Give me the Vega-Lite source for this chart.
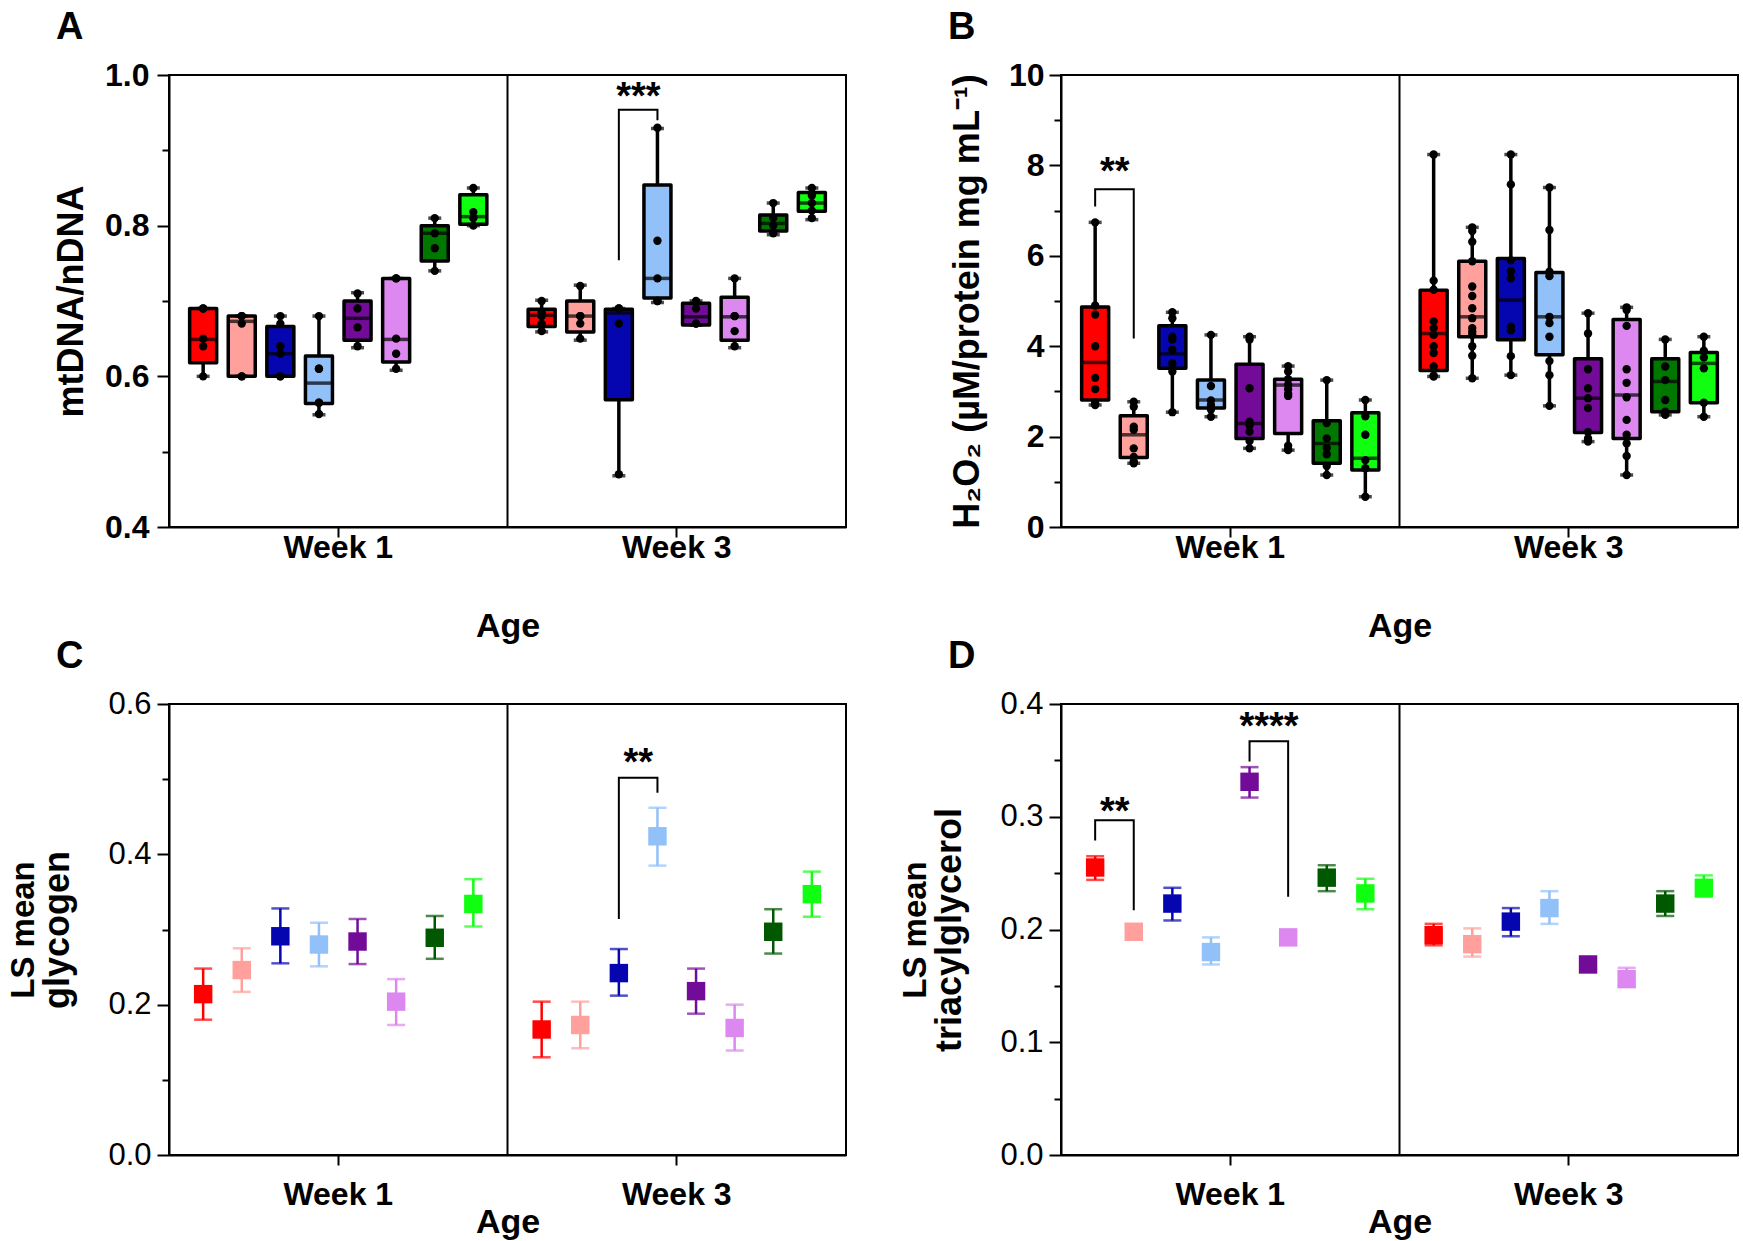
{
  "$schema": "https://vega.github.io/schema/vega-lite/v6.json",
  "autosize": {"type": "pad"},
  "padding": {"left": 6, "top": 8, "right": 4, "bottom": 0},
  "background": "white",
  "config": {
    "font": "Liberation Sans",
    "view": {"stroke": "black", "strokeWidth": 2},
    "axis": {"domainColor": "black", "domainWidth": 2, "tickColor": "black", "tickWidth": 2, "labelColor": "black", "titleColor": "black", "grid": false},
    "title": {"anchor": "start", "frame": "group", "fontSize": 38, "fontWeight": "bold", "color": "black", "dx": -113, "offset": 12}
  },
  "datasets": {
    "boxA": [
      {"week": "Week 1", "group": "G1", "lo": 0.600, "q1": 0.618, "med": 0.649, "q3": 0.690, "hi": 0.690},
      {"week": "Week 1", "group": "G2", "lo": 0.600, "q1": 0.600, "med": 0.673, "q3": 0.680, "hi": 0.680},
      {"week": "Week 1", "group": "G3", "lo": 0.600, "q1": 0.600, "med": 0.630, "q3": 0.666, "hi": 0.680},
      {"week": "Week 1", "group": "G4", "lo": 0.549, "q1": 0.564, "med": 0.591, "q3": 0.627, "hi": 0.680},
      {"week": "Week 1", "group": "G5", "lo": 0.638, "q1": 0.648, "med": 0.677, "q3": 0.700, "hi": 0.711},
      {"week": "Week 1", "group": "G6", "lo": 0.608, "q1": 0.619, "med": 0.649, "q3": 0.730, "hi": 0.730},
      {"week": "Week 1", "group": "G7", "lo": 0.740, "q1": 0.753, "med": 0.790, "q3": 0.800, "hi": 0.810},
      {"week": "Week 1", "group": "G8", "lo": 0.800, "q1": 0.802, "med": 0.812, "q3": 0.841, "hi": 0.850},
      {"week": "Week 3", "group": "G1", "lo": 0.659, "q1": 0.666, "med": 0.681, "q3": 0.689, "hi": 0.701},
      {"week": "Week 3", "group": "G2", "lo": 0.648, "q1": 0.659, "med": 0.680, "q3": 0.700, "hi": 0.721},
      {"week": "Week 3", "group": "G3", "lo": 0.468, "q1": 0.569, "med": 0.684, "q3": 0.689, "hi": 0.690},
      {"week": "Week 3", "group": "G4", "lo": 0.698, "q1": 0.704, "med": 0.730, "q3": 0.854, "hi": 0.929},
      {"week": "Week 3", "group": "G5", "lo": 0.668, "q1": 0.668, "med": 0.679, "q3": 0.697, "hi": 0.700},
      {"week": "Week 3", "group": "G6", "lo": 0.638, "q1": 0.648, "med": 0.679, "q3": 0.705, "hi": 0.730},
      {"week": "Week 3", "group": "G7", "lo": 0.788, "q1": 0.793, "med": 0.803, "q3": 0.814, "hi": 0.830},
      {"week": "Week 3", "group": "G8", "lo": 0.808, "q1": 0.819, "med": 0.830, "q3": 0.844, "hi": 0.850}
    ],
    "ptsA": [
      {"week": "Week 1", "group": "G1", "v": 0.69}, {"week": "Week 1", "group": "G1", "v": 0.69}, {"week": "Week 1", "group": "G1", "v": 0.65}, {"week": "Week 1", "group": "G1", "v": 0.64}, {"week": "Week 1", "group": "G1", "v": 0.60},
      {"week": "Week 1", "group": "G2", "v": 0.68}, {"week": "Week 1", "group": "G2", "v": 0.68}, {"week": "Week 1", "group": "G2", "v": 0.67}, {"week": "Week 1", "group": "G2", "v": 0.60}, {"week": "Week 1", "group": "G2", "v": 0.60},
      {"week": "Week 1", "group": "G3", "v": 0.68}, {"week": "Week 1", "group": "G3", "v": 0.67}, {"week": "Week 1", "group": "G3", "v": 0.64}, {"week": "Week 1", "group": "G3", "v": 0.63}, {"week": "Week 1", "group": "G3", "v": 0.60}, {"week": "Week 1", "group": "G3", "v": 0.60},
      {"week": "Week 1", "group": "G4", "v": 0.68}, {"week": "Week 1", "group": "G4", "v": 0.61}, {"week": "Week 1", "group": "G4", "v": 0.61}, {"week": "Week 1", "group": "G4", "v": 0.565}, {"week": "Week 1", "group": "G4", "v": 0.565}, {"week": "Week 1", "group": "G4", "v": 0.55},
      {"week": "Week 1", "group": "G5", "v": 0.71}, {"week": "Week 1", "group": "G5", "v": 0.69}, {"week": "Week 1", "group": "G5", "v": 0.665}, {"week": "Week 1", "group": "G5", "v": 0.64},
      {"week": "Week 1", "group": "G6", "v": 0.73}, {"week": "Week 1", "group": "G6", "v": 0.73}, {"week": "Week 1", "group": "G6", "v": 0.65}, {"week": "Week 1", "group": "G6", "v": 0.63}, {"week": "Week 1", "group": "G6", "v": 0.61},
      {"week": "Week 1", "group": "G7", "v": 0.81}, {"week": "Week 1", "group": "G7", "v": 0.79}, {"week": "Week 1", "group": "G7", "v": 0.77}, {"week": "Week 1", "group": "G7", "v": 0.74},
      {"week": "Week 1", "group": "G8", "v": 0.85}, {"week": "Week 1", "group": "G8", "v": 0.818}, {"week": "Week 1", "group": "G8", "v": 0.81}, {"week": "Week 1", "group": "G8", "v": 0.80},
      {"week": "Week 3", "group": "G1", "v": 0.70}, {"week": "Week 3", "group": "G1", "v": 0.685}, {"week": "Week 3", "group": "G1", "v": 0.68}, {"week": "Week 3", "group": "G1", "v": 0.67}, {"week": "Week 3", "group": "G1", "v": 0.66},
      {"week": "Week 3", "group": "G2", "v": 0.72}, {"week": "Week 3", "group": "G2", "v": 0.68}, {"week": "Week 3", "group": "G2", "v": 0.68}, {"week": "Week 3", "group": "G2", "v": 0.67}, {"week": "Week 3", "group": "G2", "v": 0.65},
      {"week": "Week 3", "group": "G3", "v": 0.69}, {"week": "Week 3", "group": "G3", "v": 0.69}, {"week": "Week 3", "group": "G3", "v": 0.67}, {"week": "Week 3", "group": "G3", "v": 0.47},
      {"week": "Week 3", "group": "G4", "v": 0.93}, {"week": "Week 3", "group": "G4", "v": 0.78}, {"week": "Week 3", "group": "G4", "v": 0.73}, {"week": "Week 3", "group": "G4", "v": 0.70}, {"week": "Week 3", "group": "G4", "v": 0.70},
      {"week": "Week 3", "group": "G5", "v": 0.70}, {"week": "Week 3", "group": "G5", "v": 0.69}, {"week": "Week 3", "group": "G5", "v": 0.67}, {"week": "Week 3", "group": "G5", "v": 0.67},
      {"week": "Week 3", "group": "G6", "v": 0.73}, {"week": "Week 3", "group": "G6", "v": 0.68}, {"week": "Week 3", "group": "G6", "v": 0.68}, {"week": "Week 3", "group": "G6", "v": 0.66}, {"week": "Week 3", "group": "G6", "v": 0.64},
      {"week": "Week 3", "group": "G7", "v": 0.83}, {"week": "Week 3", "group": "G7", "v": 0.81}, {"week": "Week 3", "group": "G7", "v": 0.80}, {"week": "Week 3", "group": "G7", "v": 0.79},
      {"week": "Week 3", "group": "G8", "v": 0.85}, {"week": "Week 3", "group": "G8", "v": 0.84}, {"week": "Week 3", "group": "G8", "v": 0.83}, {"week": "Week 3", "group": "G8", "v": 0.82}, {"week": "Week 3", "group": "G8", "v": 0.81}
    ],
    "brA": [
      {"id": "a1", "s": 1, "week": "Week 3", "group": "G3", "v": 0.754},
      {"id": "a1", "s": 2, "week": "Week 3", "group": "G3", "v": 0.954},
      {"id": "a1", "s": 3, "week": "Week 3", "group": "G4", "v": 0.954},
      {"id": "a1", "s": 4, "week": "Week 3", "group": "G4", "v": 0.940}
    ],
    "txtA": [{"week": "Week 3", "group": "G3", "v": 0.955, "label": "***"}],
    "boxB": [
      {"week": "Week 1", "group": "G1", "lo": 2.70, "q1": 2.81, "med": 3.64, "q3": 4.87, "hi": 6.74},
      {"week": "Week 1", "group": "G2", "lo": 1.41, "q1": 1.54, "med": 2.04, "q3": 2.46, "hi": 2.77},
      {"week": "Week 1", "group": "G3", "lo": 2.54, "q1": 3.51, "med": 3.83, "q3": 4.45, "hi": 4.75},
      {"week": "Week 1", "group": "G4", "lo": 2.44, "q1": 2.63, "med": 2.81, "q3": 3.25, "hi": 4.25},
      {"week": "Week 1", "group": "G5", "lo": 1.74, "q1": 1.96, "med": 2.29, "q3": 3.60, "hi": 4.21},
      {"week": "Week 1", "group": "G6", "lo": 1.70, "q1": 2.07, "med": 3.14, "q3": 3.27, "hi": 3.56},
      {"week": "Week 1", "group": "G7", "lo": 1.15, "q1": 1.41, "med": 1.85, "q3": 2.35, "hi": 3.25},
      {"week": "Week 1", "group": "G8", "lo": 0.67, "q1": 1.26, "med": 1.52, "q3": 2.53, "hi": 2.81},
      {"week": "Week 3", "group": "G1", "lo": 3.33, "q1": 3.46, "med": 4.28, "q3": 5.24, "hi": 8.24},
      {"week": "Week 3", "group": "G2", "lo": 3.29, "q1": 4.21, "med": 4.65, "q3": 5.88, "hi": 6.63},
      {"week": "Week 3", "group": "G3", "lo": 3.36, "q1": 4.14, "med": 5.02, "q3": 5.94, "hi": 8.24},
      {"week": "Week 3", "group": "G4", "lo": 2.68, "q1": 3.81, "med": 4.65, "q3": 5.63, "hi": 7.51},
      {"week": "Week 3", "group": "G5", "lo": 1.89, "q1": 2.09, "med": 2.85, "q3": 3.72, "hi": 4.73},
      {"week": "Week 3", "group": "G6", "lo": 1.15, "q1": 1.96, "med": 2.92, "q3": 4.59, "hi": 4.86},
      {"week": "Week 3", "group": "G7", "lo": 2.48, "q1": 2.55, "med": 3.22, "q3": 3.72, "hi": 4.15},
      {"week": "Week 3", "group": "G8", "lo": 2.44, "q1": 2.75, "med": 3.62, "q3": 3.86, "hi": 4.21}
    ],
    "ptsB": [
      {"week": "Week 1", "group": "G1", "v": 6.74}, {"week": "Week 1", "group": "G1", "v": 4.9}, {"week": "Week 1", "group": "G1", "v": 4.7}, {"week": "Week 1", "group": "G1", "v": 4.0}, {"week": "Week 1", "group": "G1", "v": 3.3}, {"week": "Week 1", "group": "G1", "v": 3.05}, {"week": "Week 1", "group": "G1", "v": 2.75}, {"week": "Week 1", "group": "G1", "v": 2.7},
      {"week": "Week 1", "group": "G2", "v": 2.77}, {"week": "Week 1", "group": "G2", "v": 2.66}, {"week": "Week 1", "group": "G2", "v": 2.22}, {"week": "Week 1", "group": "G2", "v": 2.15}, {"week": "Week 1", "group": "G2", "v": 1.74}, {"week": "Week 1", "group": "G2", "v": 1.55}, {"week": "Week 1", "group": "G2", "v": 1.45}, {"week": "Week 1", "group": "G2", "v": 1.41},
      {"week": "Week 1", "group": "G3", "v": 4.75}, {"week": "Week 1", "group": "G3", "v": 4.62}, {"week": "Week 1", "group": "G3", "v": 4.21}, {"week": "Week 1", "group": "G3", "v": 4.15}, {"week": "Week 1", "group": "G3", "v": 3.92}, {"week": "Week 1", "group": "G3", "v": 3.62}, {"week": "Week 1", "group": "G3", "v": 3.44}, {"week": "Week 1", "group": "G3", "v": 2.54},
      {"week": "Week 1", "group": "G4", "v": 4.25}, {"week": "Week 1", "group": "G4", "v": 3.12}, {"week": "Week 1", "group": "G4", "v": 2.8}, {"week": "Week 1", "group": "G4", "v": 2.7}, {"week": "Week 1", "group": "G4", "v": 2.6}, {"week": "Week 1", "group": "G4", "v": 2.44},
      {"week": "Week 1", "group": "G5", "v": 4.21}, {"week": "Week 1", "group": "G5", "v": 4.15}, {"week": "Week 1", "group": "G5", "v": 3.07}, {"week": "Week 1", "group": "G5", "v": 2.33}, {"week": "Week 1", "group": "G5", "v": 2.25}, {"week": "Week 1", "group": "G5", "v": 2.11}, {"week": "Week 1", "group": "G5", "v": 1.9}, {"week": "Week 1", "group": "G5", "v": 1.74},
      {"week": "Week 1", "group": "G6", "v": 3.56}, {"week": "Week 1", "group": "G6", "v": 3.44}, {"week": "Week 1", "group": "G6", "v": 3.27}, {"week": "Week 1", "group": "G6", "v": 3.15}, {"week": "Week 1", "group": "G6", "v": 3.05}, {"week": "Week 1", "group": "G6", "v": 2.95}, {"week": "Week 1", "group": "G6", "v": 2.9}, {"week": "Week 1", "group": "G6", "v": 1.8}, {"week": "Week 1", "group": "G6", "v": 1.72}, {"week": "Week 1", "group": "G6", "v": 1.7},
      {"week": "Week 1", "group": "G7", "v": 3.25}, {"week": "Week 1", "group": "G7", "v": 2.3}, {"week": "Week 1", "group": "G7", "v": 1.96}, {"week": "Week 1", "group": "G7", "v": 1.75}, {"week": "Week 1", "group": "G7", "v": 1.61}, {"week": "Week 1", "group": "G7", "v": 1.35}, {"week": "Week 1", "group": "G7", "v": 1.15},
      {"week": "Week 1", "group": "G8", "v": 2.81}, {"week": "Week 1", "group": "G8", "v": 2.45}, {"week": "Week 1", "group": "G8", "v": 2.04}, {"week": "Week 1", "group": "G8", "v": 1.48}, {"week": "Week 1", "group": "G8", "v": 1.3}, {"week": "Week 1", "group": "G8", "v": 0.67},
      {"week": "Week 3", "group": "G1", "v": 8.24}, {"week": "Week 3", "group": "G1", "v": 5.45}, {"week": "Week 3", "group": "G1", "v": 5.25}, {"week": "Week 3", "group": "G1", "v": 4.55}, {"week": "Week 3", "group": "G1", "v": 4.4}, {"week": "Week 3", "group": "G1", "v": 4.25}, {"week": "Week 3", "group": "G1", "v": 4.0}, {"week": "Week 3", "group": "G1", "v": 3.85}, {"week": "Week 3", "group": "G1", "v": 3.55}, {"week": "Week 3", "group": "G1", "v": 3.35}, {"week": "Week 3", "group": "G1", "v": 3.33},
      {"week": "Week 3", "group": "G2", "v": 6.63}, {"week": "Week 3", "group": "G2", "v": 6.55}, {"week": "Week 3", "group": "G2", "v": 6.31}, {"week": "Week 3", "group": "G2", "v": 5.88}, {"week": "Week 3", "group": "G2", "v": 5.32}, {"week": "Week 3", "group": "G2", "v": 5.11}, {"week": "Week 3", "group": "G2", "v": 4.84}, {"week": "Week 3", "group": "G2", "v": 4.62}, {"week": "Week 3", "group": "G2", "v": 4.4}, {"week": "Week 3", "group": "G2", "v": 4.32}, {"week": "Week 3", "group": "G2", "v": 4.25}, {"week": "Week 3", "group": "G2", "v": 4.0}, {"week": "Week 3", "group": "G2", "v": 3.79}, {"week": "Week 3", "group": "G2", "v": 3.29},
      {"week": "Week 3", "group": "G3", "v": 8.24}, {"week": "Week 3", "group": "G3", "v": 7.58}, {"week": "Week 3", "group": "G3", "v": 5.9}, {"week": "Week 3", "group": "G3", "v": 5.66}, {"week": "Week 3", "group": "G3", "v": 5.5}, {"week": "Week 3", "group": "G3", "v": 4.43}, {"week": "Week 3", "group": "G3", "v": 4.35}, {"week": "Week 3", "group": "G3", "v": 3.78}, {"week": "Week 3", "group": "G3", "v": 3.36},
      {"week": "Week 3", "group": "G4", "v": 7.51}, {"week": "Week 3", "group": "G4", "v": 6.57}, {"week": "Week 3", "group": "G4", "v": 5.65}, {"week": "Week 3", "group": "G4", "v": 5.55}, {"week": "Week 3", "group": "G4", "v": 4.65}, {"week": "Week 3", "group": "G4", "v": 4.51}, {"week": "Week 3", "group": "G4", "v": 4.21}, {"week": "Week 3", "group": "G4", "v": 3.67}, {"week": "Week 3", "group": "G4", "v": 3.36}, {"week": "Week 3", "group": "G4", "v": 2.68},
      {"week": "Week 3", "group": "G5", "v": 4.73}, {"week": "Week 3", "group": "G5", "v": 4.28}, {"week": "Week 3", "group": "G5", "v": 3.49}, {"week": "Week 3", "group": "G5", "v": 3.07}, {"week": "Week 3", "group": "G5", "v": 2.85}, {"week": "Week 3", "group": "G5", "v": 2.63}, {"week": "Week 3", "group": "G5", "v": 2.1}, {"week": "Week 3", "group": "G5", "v": 1.96}, {"week": "Week 3", "group": "G5", "v": 1.89},
      {"week": "Week 3", "group": "G6", "v": 4.86}, {"week": "Week 3", "group": "G6", "v": 4.8}, {"week": "Week 3", "group": "G6", "v": 4.45}, {"week": "Week 3", "group": "G6", "v": 3.49}, {"week": "Week 3", "group": "G6", "v": 3.19}, {"week": "Week 3", "group": "G6", "v": 2.87}, {"week": "Week 3", "group": "G6", "v": 2.37}, {"week": "Week 3", "group": "G6", "v": 2.04}, {"week": "Week 3", "group": "G6", "v": 1.85}, {"week": "Week 3", "group": "G6", "v": 1.57}, {"week": "Week 3", "group": "G6", "v": 1.15},
      {"week": "Week 3", "group": "G7", "v": 4.15}, {"week": "Week 3", "group": "G7", "v": 3.55}, {"week": "Week 3", "group": "G7", "v": 3.25}, {"week": "Week 3", "group": "G7", "v": 2.81}, {"week": "Week 3", "group": "G7", "v": 2.55}, {"week": "Week 3", "group": "G7", "v": 2.48},
      {"week": "Week 3", "group": "G8", "v": 4.21}, {"week": "Week 3", "group": "G8", "v": 3.9}, {"week": "Week 3", "group": "G8", "v": 3.75}, {"week": "Week 3", "group": "G8", "v": 3.51}, {"week": "Week 3", "group": "G8", "v": 2.75}, {"week": "Week 3", "group": "G8", "v": 2.44}
    ],
    "brB": [
      {"id": "b1", "s": 1, "week": "Week 1", "group": "G1", "v": 7.09},
      {"id": "b1", "s": 2, "week": "Week 1", "group": "G1", "v": 7.47},
      {"id": "b1", "s": 3, "week": "Week 1", "group": "G2", "v": 7.47},
      {"id": "b1", "s": 4, "week": "Week 1", "group": "G2", "v": 4.17}
    ],
    "txtB": [{"week": "Week 1", "group": "G1", "v": 7.58, "label": "**"}],
    "mC": [
      {"week": "Week 1", "group": "G1", "m": 0.214, "lo": 0.180, "hi": 0.248},
      {"week": "Week 1", "group": "G2", "m": 0.246, "lo": 0.217, "hi": 0.275},
      {"week": "Week 1", "group": "G3", "m": 0.291, "lo": 0.255, "hi": 0.328},
      {"week": "Week 1", "group": "G4", "m": 0.280, "lo": 0.251, "hi": 0.309},
      {"week": "Week 1", "group": "G5", "m": 0.284, "lo": 0.254, "hi": 0.314},
      {"week": "Week 1", "group": "G6", "m": 0.204, "lo": 0.173, "hi": 0.234},
      {"week": "Week 1", "group": "G7", "m": 0.289, "lo": 0.261, "hi": 0.318},
      {"week": "Week 1", "group": "G8", "m": 0.334, "lo": 0.304, "hi": 0.367},
      {"week": "Week 3", "group": "G1", "m": 0.167, "lo": 0.130, "hi": 0.204},
      {"week": "Week 3", "group": "G2", "m": 0.173, "lo": 0.142, "hi": 0.204},
      {"week": "Week 3", "group": "G3", "m": 0.242, "lo": 0.212, "hi": 0.274},
      {"week": "Week 3", "group": "G4", "m": 0.424, "lo": 0.385, "hi": 0.462},
      {"week": "Week 3", "group": "G5", "m": 0.218, "lo": 0.188, "hi": 0.248},
      {"week": "Week 3", "group": "G6", "m": 0.169, "lo": 0.139, "hi": 0.200},
      {"week": "Week 3", "group": "G7", "m": 0.297, "lo": 0.268, "hi": 0.327},
      {"week": "Week 3", "group": "G8", "m": 0.347, "lo": 0.317, "hi": 0.377}
    ],
    "brC": [
      {"id": "c1", "s": 1, "week": "Week 3", "group": "G3", "v": 0.314},
      {"id": "c1", "s": 2, "week": "Week 3", "group": "G3", "v": 0.502},
      {"id": "c1", "s": 3, "week": "Week 3", "group": "G4", "v": 0.502},
      {"id": "c1", "s": 4, "week": "Week 3", "group": "G4", "v": 0.482}
    ],
    "txtC": [{"week": "Week 3", "group": "G3", "v": 0.506, "label": "**"}],
    "mD": [
      {"week": "Week 1", "group": "G1", "m": 0.255, "lo": 0.244, "hi": 0.265},
      {"week": "Week 1", "group": "G2", "m": 0.198, "lo": 0.193, "hi": 0.203},
      {"week": "Week 1", "group": "G3", "m": 0.223, "lo": 0.208, "hi": 0.237},
      {"week": "Week 1", "group": "G4", "m": 0.180, "lo": 0.169, "hi": 0.193},
      {"week": "Week 1", "group": "G5", "m": 0.331, "lo": 0.317, "hi": 0.344},
      {"week": "Week 1", "group": "G6", "m": 0.193, "lo": 0.188, "hi": 0.198},
      {"week": "Week 1", "group": "G7", "m": 0.246, "lo": 0.234, "hi": 0.257},
      {"week": "Week 1", "group": "G8", "m": 0.232, "lo": 0.218, "hi": 0.245},
      {"week": "Week 3", "group": "G1", "m": 0.195, "lo": 0.186, "hi": 0.205},
      {"week": "Week 3", "group": "G2", "m": 0.187, "lo": 0.176, "hi": 0.201},
      {"week": "Week 3", "group": "G3", "m": 0.207, "lo": 0.194, "hi": 0.219},
      {"week": "Week 3", "group": "G4", "m": 0.219, "lo": 0.205, "hi": 0.234},
      {"week": "Week 3", "group": "G5", "m": 0.169, "lo": 0.165, "hi": 0.173},
      {"week": "Week 3", "group": "G6", "m": 0.156, "lo": 0.150, "hi": 0.166},
      {"week": "Week 3", "group": "G7", "m": 0.223, "lo": 0.212, "hi": 0.234},
      {"week": "Week 3", "group": "G8", "m": 0.237, "lo": 0.229, "hi": 0.248}
    ],
    "brD": [
      {"id": "d1", "s": 1, "week": "Week 1", "group": "G1", "v": 0.279},
      {"id": "d1", "s": 2, "week": "Week 1", "group": "G1", "v": 0.297},
      {"id": "d1", "s": 3, "week": "Week 1", "group": "G2", "v": 0.297},
      {"id": "d1", "s": 4, "week": "Week 1", "group": "G2", "v": 0.217},
      {"id": "d2", "s": 1, "week": "Week 1", "group": "G5", "v": 0.349},
      {"id": "d2", "s": 2, "week": "Week 1", "group": "G5", "v": 0.367},
      {"id": "d2", "s": 3, "week": "Week 1", "group": "G6", "v": 0.367},
      {"id": "d2", "s": 4, "week": "Week 1", "group": "G6", "v": 0.229}
    ],
    "txtD": [
      {"week": "Week 1", "group": "G1", "v": 0.294, "label": "**"},
      {"week": "Week 1", "group": "G5", "v": 0.369, "label": "****"}
    ]
  },
  "columns": 2,
  "spacing": {"row": 177, "column": 215},
  "bounds": "flush",
  "concat": [
    {
      "width": 677, "height": 452,
      "title": {"text": "A"},
      "layer": [
        {
          "data": {"name": "boxA"},
          "mark": {"type": "rule", "color": "black", "strokeWidth": 3.5},
          "encoding": {
            "x": {"field": "week", "type": "nominal", "title": "Age", "scale": {"domain": ["Week 1", "Week 3"], "paddingInner": 0, "paddingOuter": 0},
              "axis": {"labelAngle": 0, "labelFontSize": 32, "labelFontWeight": "bold", "tickSize": 10, "labelPadding": -5, "titleFontSize": 34, "titleFontWeight": "bold", "titlePadding": 46}},
            "xOffset": {"field": "group", "type": "nominal", "scale": {"domain": ["G1", "G2", "G3", "G4", "G5", "G6", "G7", "G8"], "paddingInner": 0.3, "paddingOuter": 0.535}},
            "y": {"field": "lo", "type": "quantitative", "title": "mtDNA/nDNA", "scale": {"domain": [0.4, 1.0], "nice": false, "zero": false},
              "axis": {"values": [0.4, 0.5, 0.6, 0.7, 0.8, 0.9, 1.0], "labelExpr": "round(datum.value*10) % 2 == 0 ? format(datum.value, '.1f') : ''",
                "tickSize": {"condition": {"test": "round(datum.value*10) % 2 == 0", "value": 12}, "value": 7},
                "labelFontSize": 32, "labelFontWeight": "bold", "labelPadding": 8, "titleFontSize": 36, "titleFontWeight": "bold", "titlePadding": 14}},
            "y2": {"field": "hi"}
          }
        },
        {
          "data": {"values": [{"week": "Week 3"}]},
          "mark": {"type": "rule", "color": "black", "strokeWidth": 2},
          "encoding": {"x": {"field": "week", "type": "nominal", "bandPosition": 0, "title": "Age"}}
        },
        {
          "data": {"name": "boxA"},
          "mark": {"type": "bar", "stroke": "black", "strokeWidth": 3.5, "strokeJoin": "round"},
          "encoding": {
            "x": {"field": "week", "type": "nominal", "title": "Age"},
            "xOffset": {"field": "group", "type": "nominal"},
            "y": {"field": "q1", "type": "quantitative", "title": "mtDNA/nDNA"},
            "y2": {"field": "q3"},
            "fill": {"field": "group", "type": "nominal", "legend": null, "scale": {"domain": ["G1", "G2", "G3", "G4", "G5", "G6", "G7", "G8"], "range": ["#FF0000", "#FFA09C", "#0606B0", "#92C1F9", "#720C98", "#DD88F0", "#007800", "#10FF10"]}}
          }
        },
        {
          "data": {"name": "boxA"},
          "mark": {"type": "tick", "orient": "horizontal", "color": "black", "size": 27, "thickness": 3.5},
          "encoding": {"x": {"field": "week", "type": "nominal", "title": "Age"}, "xOffset": {"field": "group", "type": "nominal"}, "y": {"field": "med", "type": "quantitative", "title": "mtDNA/nDNA"}}
        },
        {
          "data": {"name": "boxA"},
          "mark": {"type": "tick", "orient": "horizontal", "color": "black", "size": 13, "thickness": 3.5},
          "encoding": {"x": {"field": "week", "type": "nominal", "title": "Age"}, "xOffset": {"field": "group", "type": "nominal"}, "y": {"field": "lo", "type": "quantitative", "title": "mtDNA/nDNA"}}
        },
        {
          "data": {"name": "boxA"},
          "mark": {"type": "tick", "orient": "horizontal", "color": "black", "size": 13, "thickness": 3.5},
          "encoding": {"x": {"field": "week", "type": "nominal", "title": "Age"}, "xOffset": {"field": "group", "type": "nominal"}, "y": {"field": "hi", "type": "quantitative", "title": "mtDNA/nDNA"}}
        },
        {
          "data": {"name": "ptsA"},
          "mark": {"type": "circle", "color": "black", "size": 70, "opacity": 1},
          "encoding": {"x": {"field": "week", "type": "nominal", "title": "Age"}, "xOffset": {"field": "group", "type": "nominal"}, "y": {"field": "v", "type": "quantitative", "title": "mtDNA/nDNA"}}
        },
        {
          "data": {"name": "brA"},
          "mark": {"type": "line", "color": "black", "strokeWidth": 2},
          "encoding": {"x": {"field": "week", "type": "nominal", "title": "Age"}, "xOffset": {"field": "group", "type": "nominal"}, "y": {"field": "v", "type": "quantitative", "title": "mtDNA/nDNA"}, "order": {"field": "s", "type": "quantitative"}, "detail": {"field": "id"}}
        },
        {
          "data": {"name": "txtA"},
          "mark": {"type": "text", "fontSize": 38, "fontWeight": "bold", "color": "black", "dx": 19.5, "align": "center", "baseline": "alphabetic"},
          "encoding": {"x": {"field": "week", "type": "nominal", "title": "Age"}, "xOffset": {"field": "group", "type": "nominal"}, "y": {"field": "v", "type": "quantitative", "title": "mtDNA/nDNA"}, "text": {"field": "label"}}
        }
      ]
    },
    {
      "width": 677, "height": 452,
      "title": {"text": "B"},
      "layer": [
        {
          "data": {"name": "boxB"},
          "mark": {"type": "rule", "color": "black", "strokeWidth": 3.5},
          "encoding": {
            "x": {"field": "week", "type": "nominal", "title": "Age", "scale": {"domain": ["Week 1", "Week 3"], "paddingInner": 0, "paddingOuter": 0},
              "axis": {"labelAngle": 0, "labelFontSize": 32, "labelFontWeight": "bold", "tickSize": 10, "labelPadding": -5, "titleFontSize": 34, "titleFontWeight": "bold", "titlePadding": 46}},
            "xOffset": {"field": "group", "type": "nominal", "scale": {"domain": ["G1", "G2", "G3", "G4", "G5", "G6", "G7", "G8"], "paddingInner": 0.3, "paddingOuter": 0.535}},
            "y": {"field": "lo", "type": "quantitative", "title": "H₂O₂ (µM/protein mg mL⁻¹)", "scale": {"domain": [0, 10], "nice": false},
              "axis": {"values": [0, 1, 2, 3, 4, 5, 6, 7, 8, 9, 10], "labelExpr": "datum.value % 2 == 0 ? datum.label : ''",
                "tickSize": {"condition": {"test": "datum.value % 2 == 0", "value": 12}, "value": 7},
                "labelFontSize": 32, "labelFontWeight": "bold", "labelPadding": 5, "titleFontSize": 36, "titleFontWeight": "bold", "titlePadding": 22}},
            "y2": {"field": "hi"}
          }
        },
        {
          "data": {"values": [{"week": "Week 3"}]},
          "mark": {"type": "rule", "color": "black", "strokeWidth": 2},
          "encoding": {"x": {"field": "week", "type": "nominal", "bandPosition": 0, "title": "Age"}}
        },
        {
          "data": {"name": "boxB"},
          "mark": {"type": "bar", "stroke": "black", "strokeWidth": 3.5, "strokeJoin": "round"},
          "encoding": {
            "x": {"field": "week", "type": "nominal", "title": "Age"},
            "xOffset": {"field": "group", "type": "nominal"},
            "y": {"field": "q1", "type": "quantitative", "title": "H₂O₂ (µM/protein mg mL⁻¹)"},
            "y2": {"field": "q3"},
            "fill": {"field": "group", "type": "nominal", "legend": null, "scale": {"domain": ["G1", "G2", "G3", "G4", "G5", "G6", "G7", "G8"], "range": ["#FF0000", "#FFA09C", "#0606B0", "#92C1F9", "#720C98", "#DD88F0", "#007800", "#10FF10"]}}
          }
        },
        {
          "data": {"name": "boxB"},
          "mark": {"type": "tick", "orient": "horizontal", "color": "black", "size": 27, "thickness": 3.5},
          "encoding": {"x": {"field": "week", "type": "nominal", "title": "Age"}, "xOffset": {"field": "group", "type": "nominal"}, "y": {"field": "med", "type": "quantitative", "title": "H₂O₂ (µM/protein mg mL⁻¹)"}}
        },
        {
          "data": {"name": "boxB"},
          "mark": {"type": "tick", "orient": "horizontal", "color": "black", "size": 13, "thickness": 3.5},
          "encoding": {"x": {"field": "week", "type": "nominal", "title": "Age"}, "xOffset": {"field": "group", "type": "nominal"}, "y": {"field": "lo", "type": "quantitative", "title": "H₂O₂ (µM/protein mg mL⁻¹)"}}
        },
        {
          "data": {"name": "boxB"},
          "mark": {"type": "tick", "orient": "horizontal", "color": "black", "size": 13, "thickness": 3.5},
          "encoding": {"x": {"field": "week", "type": "nominal", "title": "Age"}, "xOffset": {"field": "group", "type": "nominal"}, "y": {"field": "hi", "type": "quantitative", "title": "H₂O₂ (µM/protein mg mL⁻¹)"}}
        },
        {
          "data": {"name": "ptsB"},
          "mark": {"type": "circle", "color": "black", "size": 70, "opacity": 1},
          "encoding": {"x": {"field": "week", "type": "nominal", "title": "Age"}, "xOffset": {"field": "group", "type": "nominal"}, "y": {"field": "v", "type": "quantitative", "title": "H₂O₂ (µM/protein mg mL⁻¹)"}}
        },
        {
          "data": {"name": "brB"},
          "mark": {"type": "line", "color": "black", "strokeWidth": 2},
          "encoding": {"x": {"field": "week", "type": "nominal", "title": "Age"}, "xOffset": {"field": "group", "type": "nominal"}, "y": {"field": "v", "type": "quantitative", "title": "H₂O₂ (µM/protein mg mL⁻¹)"}, "order": {"field": "s", "type": "quantitative"}, "detail": {"field": "id"}}
        },
        {
          "data": {"name": "txtB"},
          "mark": {"type": "text", "fontSize": 38, "fontWeight": "bold", "color": "black", "dx": 19.5, "align": "center", "baseline": "alphabetic"},
          "encoding": {"x": {"field": "week", "type": "nominal", "title": "Age"}, "xOffset": {"field": "group", "type": "nominal"}, "y": {"field": "v", "type": "quantitative", "title": "H₂O₂ (µM/protein mg mL⁻¹)"}, "text": {"field": "label"}}
        }
      ]
    },
    {
      "width": 677, "height": 451,
      "title": {"text": "C"},
      "resolve": {"axis": {"y": "independent"}},
      "layer": [
        {
          "data": {"name": "mC"},
          "mark": {"type": "rule", "strokeWidth": 2.5},
          "encoding": {
            "x": {"field": "week", "type": "nominal", "title": "Age", "scale": {"domain": ["Week 1", "Week 3"], "paddingInner": 0, "paddingOuter": 0},
              "axis": {"labelAngle": 0, "labelFontSize": 32, "labelFontWeight": "bold", "tickSize": 10, "labelPadding": 14, "titleFontSize": 34, "titleFontWeight": "bold", "titlePadding": -5}},
            "xOffset": {"field": "group", "type": "nominal", "scale": {"domain": ["G1", "G2", "G3", "G4", "G5", "G6", "G7", "G8"], "paddingInner": 0.3, "paddingOuter": 0.535}},
            "y": {"field": "lo", "type": "quantitative", "title": "glycogen", "scale": {"domain": [0, 0.6], "nice": false},
              "axis": {"orient": "left", "values": [0, 0.1, 0.2, 0.3, 0.4, 0.5, 0.6], "labelExpr": "round(datum.value*10) % 2 == 0 ? format(datum.value, '.1f') : ''",
                "tickSize": {"condition": {"test": "round(datum.value*10) % 2 == 0", "value": 12}, "value": 7},
                "labelFontSize": 31, "labelFontWeight": "normal", "labelPadding": 6, "titleFontSize": 36, "titleFontWeight": "bold", "titlePadding": 31}},
            "y2": {"field": "hi"},
            "color": {"field": "group", "type": "nominal", "legend": null, "scale": {"domain": ["G1", "G2", "G3", "G4", "G5", "G6", "G7", "G8"], "range": ["#FF0000", "#FFA09C", "#0606B0", "#92C1F9", "#720C98", "#DD88F0", "#005800", "#10FF10"]}}
          }
        },
        {
          "data": {"values": [{"week": "Week 3"}]},
          "mark": {"type": "rule", "color": "black", "strokeWidth": 2},
          "encoding": {"x": {"field": "week", "type": "nominal", "bandPosition": 0, "title": "Age"}}
        },
        {
          "data": {"name": "mC"},
          "mark": {"type": "tick", "orient": "horizontal", "size": 18, "thickness": 2.5},
          "encoding": {"x": {"field": "week", "type": "nominal", "title": "Age"}, "xOffset": {"field": "group", "type": "nominal"},
            "y": {"field": "lo", "type": "quantitative", "title": "LS mean", "axis": {"orient": "left", "title": "LS mean", "labels": false, "ticks": false, "domain": false, "grid": false, "offset": 125, "minExtent": 0, "titlePadding": 4, "titleFontSize": 33, "titleFontWeight": "bold"}},
            "color": {"field": "group", "type": "nominal", "legend": null}}
        },
        {
          "data": {"name": "mC"},
          "mark": {"type": "tick", "orient": "horizontal", "size": 18, "thickness": 2.5},
          "encoding": {"x": {"field": "week", "type": "nominal", "title": "Age"}, "xOffset": {"field": "group", "type": "nominal"}, "y": {"field": "hi", "type": "quantitative", "axis": null}, "color": {"field": "group", "type": "nominal", "legend": null}}
        },
        {
          "data": {"name": "mC"},
          "mark": {"type": "point", "shape": "square", "filled": true, "size": 340, "opacity": 1},
          "encoding": {"x": {"field": "week", "type": "nominal", "title": "Age"}, "xOffset": {"field": "group", "type": "nominal"}, "y": {"field": "m", "type": "quantitative", "axis": null}, "color": {"field": "group", "type": "nominal", "legend": null}}
        },
        {
          "data": {"name": "brC"},
          "mark": {"type": "line", "color": "black", "strokeWidth": 2},
          "encoding": {"x": {"field": "week", "type": "nominal", "title": "Age"}, "xOffset": {"field": "group", "type": "nominal"}, "y": {"field": "v", "type": "quantitative", "axis": null}, "order": {"field": "s", "type": "quantitative"}, "detail": {"field": "id"}}
        },
        {
          "data": {"name": "txtC"},
          "mark": {"type": "text", "fontSize": 38, "fontWeight": "bold", "color": "black", "dx": 19.5, "align": "center", "baseline": "alphabetic"},
          "encoding": {"x": {"field": "week", "type": "nominal", "title": "Age"}, "xOffset": {"field": "group", "type": "nominal"}, "y": {"field": "v", "type": "quantitative", "axis": null}, "text": {"field": "label"}}
        }
      ]
    },
    {
      "width": 677, "height": 451,
      "title": {"text": "D"},
      "resolve": {"axis": {"y": "independent"}},
      "layer": [
        {
          "data": {"name": "mD"},
          "mark": {"type": "rule", "strokeWidth": 2.5},
          "encoding": {
            "x": {"field": "week", "type": "nominal", "title": "Age", "scale": {"domain": ["Week 1", "Week 3"], "paddingInner": 0, "paddingOuter": 0},
              "axis": {"labelAngle": 0, "labelFontSize": 32, "labelFontWeight": "bold", "tickSize": 10, "labelPadding": 14, "titleFontSize": 34, "titleFontWeight": "bold", "titlePadding": -5}},
            "xOffset": {"field": "group", "type": "nominal", "scale": {"domain": ["G1", "G2", "G3", "G4", "G5", "G6", "G7", "G8"], "paddingInner": 0.3, "paddingOuter": 0.535}},
            "y": {"field": "lo", "type": "quantitative", "title": "triacylglycerol", "scale": {"domain": [0, 0.4], "nice": false},
              "axis": {"orient": "left", "values": [0, 0.05, 0.1, 0.15, 0.2, 0.25, 0.3, 0.35, 0.4], "labelExpr": "round(datum.value*100) % 10 == 0 ? format(datum.value, '.1f') : ''",
                "tickSize": {"condition": {"test": "round(datum.value*100) % 10 == 0", "value": 12}, "value": 7},
                "labelFontSize": 31, "labelFontWeight": "normal", "labelPadding": 6, "titleFontSize": 36, "titleFontWeight": "bold", "titlePadding": 31}},
            "y2": {"field": "hi"},
            "color": {"field": "group", "type": "nominal", "legend": null, "scale": {"domain": ["G1", "G2", "G3", "G4", "G5", "G6", "G7", "G8"], "range": ["#FF0000", "#FFA09C", "#0606B0", "#92C1F9", "#720C98", "#DD88F0", "#005800", "#10FF10"]}}
          }
        },
        {
          "data": {"values": [{"week": "Week 3"}]},
          "mark": {"type": "rule", "color": "black", "strokeWidth": 2},
          "encoding": {"x": {"field": "week", "type": "nominal", "bandPosition": 0, "title": "Age"}}
        },
        {
          "data": {"name": "mD"},
          "mark": {"type": "tick", "orient": "horizontal", "size": 18, "thickness": 2.5},
          "encoding": {"x": {"field": "week", "type": "nominal", "title": "Age"}, "xOffset": {"field": "group", "type": "nominal"},
            "y": {"field": "lo", "type": "quantitative", "title": "LS mean", "axis": {"orient": "left", "title": "LS mean", "labels": false, "ticks": false, "domain": false, "grid": false, "offset": 125, "minExtent": 0, "titlePadding": 4, "titleFontSize": 33, "titleFontWeight": "bold"}},
            "color": {"field": "group", "type": "nominal", "legend": null}}
        },
        {
          "data": {"name": "mD"},
          "mark": {"type": "tick", "orient": "horizontal", "size": 18, "thickness": 2.5},
          "encoding": {"x": {"field": "week", "type": "nominal", "title": "Age"}, "xOffset": {"field": "group", "type": "nominal"}, "y": {"field": "hi", "type": "quantitative", "axis": null}, "color": {"field": "group", "type": "nominal", "legend": null}}
        },
        {
          "data": {"name": "mD"},
          "mark": {"type": "point", "shape": "square", "filled": true, "size": 340, "opacity": 1},
          "encoding": {"x": {"field": "week", "type": "nominal", "title": "Age"}, "xOffset": {"field": "group", "type": "nominal"}, "y": {"field": "m", "type": "quantitative", "axis": null}, "color": {"field": "group", "type": "nominal", "legend": null}}
        },
        {
          "data": {"name": "brD"},
          "mark": {"type": "line", "color": "black", "strokeWidth": 2},
          "encoding": {"x": {"field": "week", "type": "nominal", "title": "Age"}, "xOffset": {"field": "group", "type": "nominal"}, "y": {"field": "v", "type": "quantitative", "axis": null}, "order": {"field": "s", "type": "quantitative"}, "detail": {"field": "id"}}
        },
        {
          "data": {"name": "txtD"},
          "mark": {"type": "text", "fontSize": 38, "fontWeight": "bold", "color": "black", "dx": 19.5, "align": "center", "baseline": "alphabetic"},
          "encoding": {"x": {"field": "week", "type": "nominal", "title": "Age"}, "xOffset": {"field": "group", "type": "nominal"}, "y": {"field": "v", "type": "quantitative", "axis": null}, "text": {"field": "label"}}
        }
      ]
    }
  ]
}
